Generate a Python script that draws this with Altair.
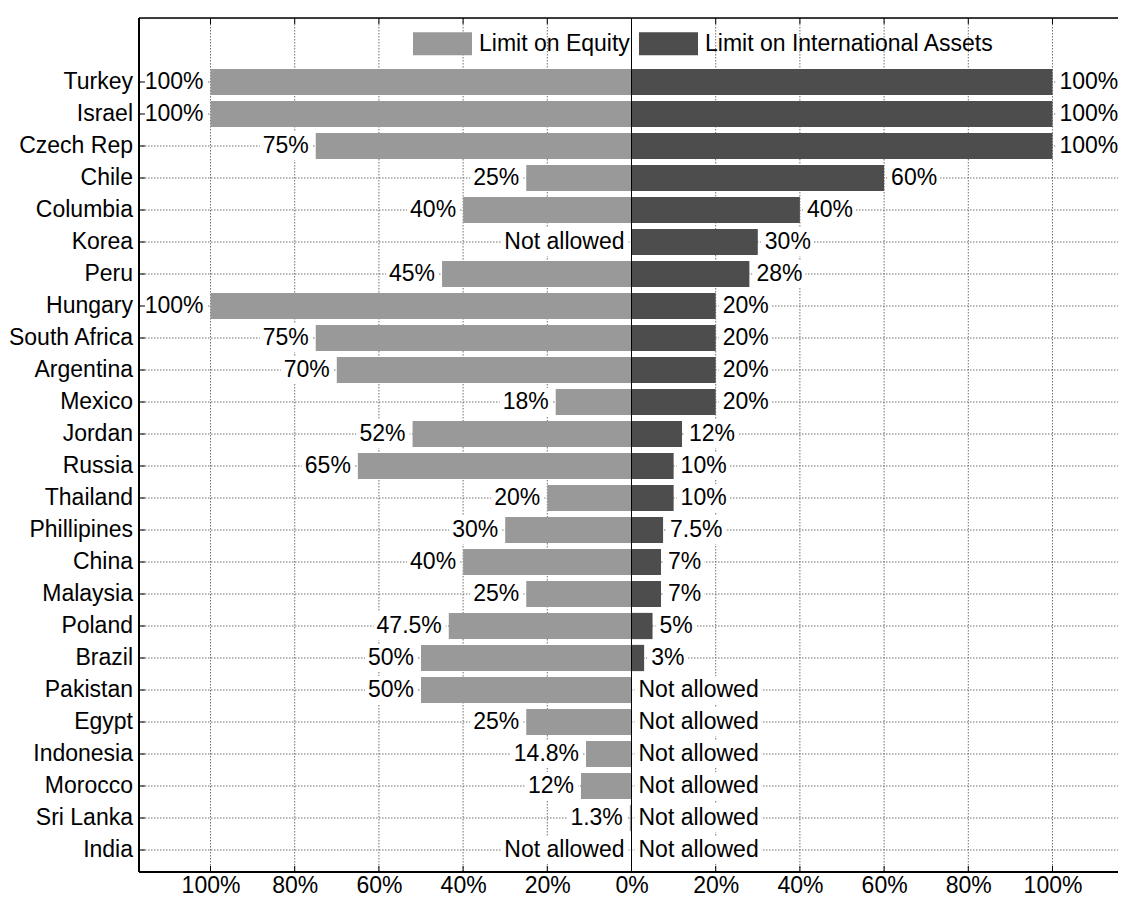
import altair as alt
import pandas as pd

# ---------------- data ----------------
countries = ["Turkey", "Israel", "Czech Rep", "Chile", "Columbia", "Korea", "Peru",
             "Hungary", "South Africa", "Argentina", "Mexico", "Jordan", "Russia",
             "Thailand", "Phillipines", "China", "Malaysia", "Poland", "Brazil",
             "Pakistan", "Egypt", "Indonesia", "Morocco", "Sri Lanka", "India"]
equity_values = [100, 100, 75, 25, 40, 0, 45, 100, 75, 70, 18, 52, 65, 20, 30, 40, 25,
                 43.4, 50, 50, 25, 10.8, 12, 0.4, 0]
equity_labels = ["100%", "100%", "75%", "25%", "40%", "Not allowed", "45%", "100%", "75%",
                 "70%", "18%", "52%", "65%", "20%", "30%", "40%", "25%", "47.5%", "50%",
                 "50%", "25%", "14.8%", "12%", "1.3%", "Not allowed"]
intl_values = [100, 100, 100, 60, 40, 30, 28, 20, 20, 20, 20, 12, 10, 10, 7.5, 7, 7, 5, 3,
               0, 0, 0, 0, 0, 0]
intl_labels = ["100%", "100%", "100%", "60%", "40%", "30%", "28%", "20%", "20%", "20%",
               "20%", "12%", "10%", "10%", "7.5%", "7%", "7%", "5%", "3%",
               "Not allowed", "Not allowed", "Not allowed", "Not allowed", "Not allowed",
               "Not allowed"]
series_names = ["Limit on Equity", "Limit on International Assets"]
series_colors = ["#999999", "#4d4d4d"]
x_ticks = [-100, -80, -60, -40, -20, 0, 20, 40, 60, 80, 100]

# ---------------- layout / style ----------------
FONT = "Liberation Sans"
FS = 23
PPU = 4.21               # pixels per percent
ROW = 32.0               # pixels per row
W = 979
H = 854
ZERO_PX = 492.5          # position of 0% from the plot's left edge
X_DOM = [-ZERO_PX / PPU, (W - ZERO_PX) / PPU]
Y_DOM = [27 - H / ROW, 27]
HALF_BAR = 0.41
HALF_BOX = 0.44
GRID_COLOR = "#707070"

CHAR_W = {"0": .556, "1": .556, "2": .556, "3": .556, "4": .556, "5": .556, "6": .556,
          "7": .556, "8": .556, "9": .556, "%": .889, ".": .278, " ": .278, "N": .722,
          "o": .556, "t": .278, "a": .556, "l": .222, "w": .722, "e": .556, "d": .556}


def text_w(s):
    return sum(CHAR_W.get(c, 0.556) for c in s) * FS


n = len(countries)
bar_rows, left_rows, right_rows = [], [], []
for i, c in enumerate(countries):
    pos = n - i
    bar_rows.append({"country": c, "pos": pos, "series": series_names[0],
                     "x0": 0, "x1": -equity_values[i]})
    bar_rows.append({"country": c, "pos": pos, "series": series_names[1],
                     "x0": 0, "x1": intl_values[i]})
    wl = text_w(equity_labels[i])
    left_rows.append({"pos": pos, "text": equity_labels[i], "x": -equity_values[i],
                      "bx0": -equity_values[i] - (7 + wl + 3) / PPU,
                      "bx1": -equity_values[i] - 3 / PPU})
    wr = text_w(intl_labels[i])
    right_rows.append({"pos": pos, "text": intl_labels[i], "x": intl_values[i],
                       "bx0": intl_values[i] + 3 / PPU,
                       "bx1": intl_values[i] + (7 + wr + 3) / PPU})

bars_df = pd.DataFrame(bar_rows)
left_df = pd.DataFrame(left_rows)
right_df = pd.DataFrame(right_rows)
rows_df = pd.DataFrame({"country": countries, "pos": [n - i for i in range(n)]})
ticks_df = pd.DataFrame({"t": x_ticks})
one_df = pd.DataFrame({"a": [0]})

xs = alt.Scale(domain=X_DOM, nice=False, zero=False)
ys = alt.Scale(domain=Y_DOM, nice=False, zero=False)
x_axis = alt.Axis(values=x_ticks, labelExpr="abs(datum.value) + '%'", ticks=False,
                  domain=False, grid=False, labelFontSize=FS, labelFont=FONT,
                  labelColor="black", labelPadding=2, title=None)

# gridlines
vgrid = alt.Chart(ticks_df).mark_rule(color=GRID_COLOR, strokeDash=[1.5, 1.5], strokeWidth=1).encode(
    x=alt.X("t:Q", scale=xs, axis=x_axis), y=alt.value(0), y2=alt.value(H))
hgrid = alt.Chart(rows_df).mark_rule(color=GRID_COLOR, strokeDash=[1.5, 1.5], strokeWidth=1).encode(
    y=alt.Y("pos:Q", scale=ys, axis=None), x=alt.value(0), x2=alt.value(W))

# bars
bars = alt.Chart(bars_df).transform_calculate(
    y0=f"datum.pos - {HALF_BAR}", y1=f"datum.pos + {HALF_BAR}"
).mark_rect().encode(
    x=alt.X("x0:Q", scale=xs, axis=x_axis), x2="x1:Q",
    y=alt.Y("y0:Q", scale=ys, axis=None), y2="y1:Q",
    color=alt.Color("series:N",
                    scale=alt.Scale(domain=series_names, range=series_colors),
                    legend=alt.Legend(title=None, orient="none", legendX=274, legendY=-4,
                                      direction="horizontal",
                                      symbolType="M-1,-0.39H1V0.39H-1Z", symbolSize=3481,
                                      symbolStrokeWidth=0, symbolOpacity=1,
                                      labelFontSize=FS, labelFont=FONT, labelColor="black",
                                      labelOffset=7, labelLimit=500, columnPadding=9,
                                      padding=0)),
)

zero_line = alt.Chart(one_df).mark_rule(color="black", strokeWidth=1).encode(
    x=alt.X("a:Q", scale=xs, axis=x_axis), y=alt.value(0), y2=alt.value(H))


def label_layer(df, align, dx):
    box = alt.Chart(df).transform_calculate(
        y0=f"datum.pos - {HALF_BOX}", y1=f"datum.pos + {HALF_BOX}"
    ).mark_rect(color="white").encode(
        x=alt.X("bx0:Q", scale=xs, axis=x_axis), x2="bx1:Q",
        y=alt.Y("y0:Q", scale=ys, axis=None), y2="y1:Q")
    txt = alt.Chart(df).mark_text(align=align, baseline="middle", dx=dx, font=FONT,
                                  fontSize=FS, color="black").encode(
        x=alt.X("x:Q", scale=xs, axis=x_axis), y=alt.Y("pos:Q", scale=ys, axis=None),
        text="text:N")
    return box, txt


lbox, ltxt = label_layer(left_df, "right", -7)
rbox, rtxt = label_layer(right_df, "left", 7)

country_txt = alt.Chart(rows_df).mark_text(align="right", baseline="middle", dx=-6,
                                           font=FONT, fontSize=FS, color="black").encode(
    x=alt.value(0), y=alt.Y("pos:Q", scale=ys, axis=None), text="country:N")

# frame lines and ticks
top_line = alt.Chart(one_df).mark_rule(color="black", strokeWidth=1.5).encode(
    x=alt.value(0), x2=alt.value(W), y=alt.value(0))
bottom_line = alt.Chart(one_df).mark_rule(color="black", strokeWidth=2).encode(
    x=alt.value(0), x2=alt.value(W), y=alt.value(H))
left_line = alt.Chart(one_df).mark_rule(color="black", strokeWidth=2).encode(
    x=alt.value(0), y=alt.value(0), y2=alt.value(H))
bottom_ticks = alt.Chart(ticks_df).mark_rule(color="black", strokeWidth=1).encode(
    x=alt.X("t:Q", scale=xs, axis=x_axis), y=alt.value(H), y2=alt.value(H - 6))
top_ticks = alt.Chart(ticks_df).mark_rule(color="black", strokeWidth=1).encode(
    x=alt.X("t:Q", scale=xs, axis=x_axis), y=alt.value(0), y2=alt.value(6))
left_ticks = alt.Chart(rows_df).mark_rule(color="black", strokeWidth=1).encode(
    y=alt.Y("pos:Q", scale=ys, axis=None), x=alt.value(0), x2=alt.value(6))

chart = alt.layer(
    vgrid, hgrid, bars, lbox, rbox, zero_line, ltxt, rtxt, country_txt,
    top_line, bottom_line, left_line, bottom_ticks, top_ticks, left_ticks
).properties(
    width=W, height=H,
    autosize=alt.AutoSizeParams(type="none"),
    padding={"left": 131, "top": 10, "right": 0, "bottom": 25},
    background="white",
).configure_view(stroke=None).configure(font=FONT)

chart.save("out.html", embed_options={"renderer": "svg", "actions": False})
